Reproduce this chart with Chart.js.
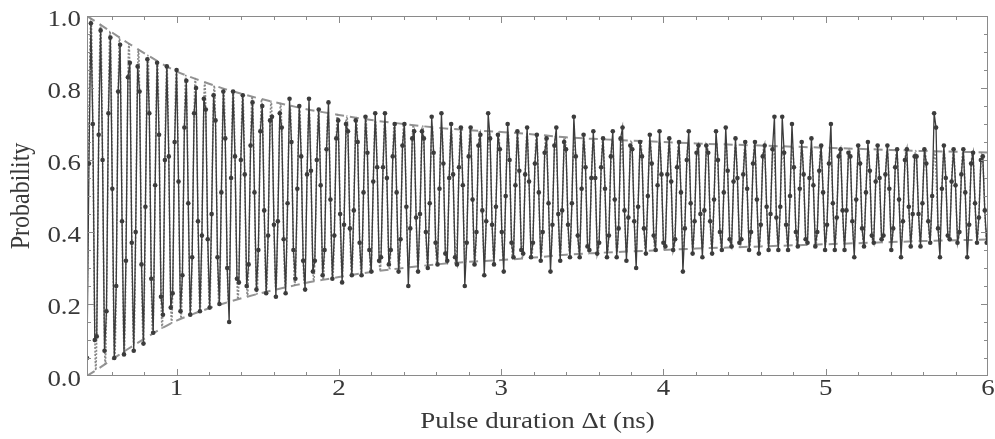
<!DOCTYPE html>
<html>
<head>
<meta charset="utf-8">
<title>Rabi oscillation</title>
<script src="https://cdn.jsdelivr.net/npm/chart.js@4.4.0/dist/chart.umd.min.js"></script>
<style>
  html, body { margin: 0; padding: 0; background: #fff; }
  canvas { display: block; }
</style>
</head>
<body>
<canvas id="myChart" width="995" height="439"></canvas>
<script>
//data

//measured points, one per pulse step
const pulseStart = 0.448; // ns
const pulseStep = 0.012;  // ns
const probability = [
  0.05, 0.59, 0.98, 0.70, 0.10,  0.11, 0.67, 0.96, 0.60, 0.07,
  0.18, 0.73, 0.94, 0.52, 0.05,  0.25, 0.79, 0.92, 0.43, 0.06,
  0.32, 0.83, 0.87, 0.37, 0.07,  0.40, 0.86, 0.79, 0.31, 0.09,
  0.47, 0.88, 0.73, 0.27, 0.12,  0.53, 0.87, 0.67, 0.22, 0.17,
  0.60, 0.86, 0.61, 0.19, 0.23,  0.65, 0.85, 0.54, 0.18, 0.28,
  0.69, 0.82, 0.48, 0.17, 0.33,  0.73, 0.80, 0.43, 0.18, 0.39,
  0.77, 0.74, 0.38, 0.19, 0.45,  0.78, 0.71, 0.33, 0.20, 0.51,
  0.79, 0.66, 0.30, 0.15, 0.55,  0.79, 0.61, 0.27, 0.26, 0.60,
  0.78, 0.56, 0.25, 0.31, 0.64,  0.76, 0.51, 0.24, 0.35, 0.68,
  0.75, 0.46, 0.23, 0.39, 0.71,  0.72, 0.42, 0.22, 0.43, 0.73,
  0.69, 0.38, 0.23, 0.48, 0.77,  0.65, 0.35, 0.27, 0.52, 0.75,
  0.61, 0.32, 0.24, 0.56, 0.77,  0.57, 0.29, 0.32, 0.60, 0.74,
  0.53, 0.28, 0.35, 0.63, 0.76,  0.49, 0.27, 0.39, 0.66, 0.71,
  0.45, 0.26, 0.42, 0.70, 0.68,  0.41, 0.28, 0.46, 0.71, 0.65,
  0.37, 0.28, 0.51, 0.72, 0.62,  0.35, 0.29, 0.54, 0.73, 0.58,
  0.32, 0.33, 0.58, 0.73, 0.55,  0.31, 0.35, 0.61, 0.70, 0.51,
  0.29, 0.38, 0.64, 0.70, 0.47,  0.25, 0.41, 0.66, 0.68, 0.44,
  0.29, 0.45, 0.68, 0.66, 0.40,  0.30, 0.48, 0.72, 0.62, 0.37,
  0.31, 0.52, 0.73, 0.59, 0.34,  0.32, 0.55, 0.70, 0.56, 0.33,
  0.31, 0.58, 0.69, 0.53, 0.25,  0.37, 0.61, 0.69, 0.49, 0.31,
  0.40, 0.64, 0.67, 0.46, 0.28,  0.43, 0.73, 0.66, 0.42, 0.31,
  0.47, 0.67, 0.63, 0.40, 0.29,  0.50, 0.70, 0.60, 0.37, 0.33,
  0.53, 0.68, 0.57, 0.35, 0.34,  0.56, 0.69, 0.54, 0.33, 0.37,
  0.59, 0.67, 0.51, 0.32, 0.40,  0.62, 0.66, 0.48, 0.29, 0.42,
  0.64, 0.69, 0.45, 0.32, 0.46,  0.65, 0.63, 0.42, 0.33, 0.48,
  0.72, 0.61, 0.39, 0.33, 0.52,  0.67, 0.58, 0.36, 0.35, 0.55,
  0.68, 0.55, 0.34, 0.37, 0.58,  0.66, 0.52, 0.33, 0.39, 0.61,
  0.68, 0.49, 0.33, 0.41, 0.66,  0.69, 0.46, 0.32, 0.44, 0.64,
  0.63, 0.43, 0.30, 0.47, 0.65,  0.61, 0.41, 0.34, 0.50, 0.67,
  0.59, 0.39, 0.35, 0.53, 0.68,  0.56, 0.37, 0.36, 0.56, 0.66,
  0.54, 0.35, 0.38, 0.58, 0.65,  0.51, 0.29, 0.41, 0.60, 0.68,
  0.48, 0.34, 0.43, 0.62, 0.64,  0.45, 0.33, 0.46, 0.64, 0.62,
  0.43, 0.34, 0.49, 0.68, 0.60,  0.40, 0.35, 0.51, 0.69, 0.57,
  0.38, 0.36, 0.54, 0.66, 0.55,  0.37, 0.38, 0.56, 0.65, 0.52,
  0.35, 0.40, 0.59, 0.65, 0.49,  0.34, 0.42, 0.61, 0.64, 0.47,
  0.35, 0.45, 0.63, 0.72, 0.44,  0.35, 0.47, 0.72, 0.62, 0.42,
  0.35, 0.50, 0.70, 0.58, 0.40,  0.36, 0.52, 0.65, 0.56, 0.38,
  0.37, 0.55, 0.66, 0.53, 0.36,  0.40, 0.57, 0.64, 0.51, 0.35,
  0.42, 0.59, 0.70, 0.48, 0.35,  0.44, 0.61, 0.63, 0.46, 0.35,
  0.46, 0.62, 0.61, 0.43, 0.33,  0.49, 0.64, 0.59, 0.41, 0.36,
  0.51, 0.65, 0.57, 0.39, 0.37,  0.54, 0.64, 0.55, 0.38, 0.39,
  0.56, 0.64, 0.52, 0.35, 0.41,  0.58, 0.63, 0.49, 0.33, 0.43,
  0.60, 0.63, 0.47, 0.36, 0.45,  0.61, 0.61, 0.45, 0.36, 0.48,
  0.63, 0.59, 0.43, 0.37, 0.50,  0.73, 0.69, 0.41, 0.33, 0.52,
  0.64, 0.55, 0.39, 0.38, 0.54,  0.63, 0.53, 0.37, 0.40, 0.56,
  0.63, 0.51, 0.33, 0.42, 0.59,  0.62, 0.48, 0.37, 0.44, 0.60,
  0.61, 0.46, 0.37, 0.46
];

//fit curve, given by its extrema (trough, peak, trough, ...)
const fitStart = 0.4437;      // ns, first trough
const fitHalfPeriod = 0.0292; // ns
const fitExtrema = [
  0.000, 0.993, 0.016, 0.976, 0.033, 0.958, 0.051, 0.941, 0.068, 0.923,
  0.085, 0.907, 0.101, 0.891, 0.117, 0.875, 0.133, 0.860, 0.147, 0.846,
  0.160, 0.835, 0.170, 0.826, 0.179, 0.816, 0.188, 0.807, 0.197, 0.798,
  0.206, 0.791, 0.213, 0.783, 0.220, 0.776, 0.227, 0.769, 0.234, 0.763,
  0.240, 0.757, 0.246, 0.751, 0.252, 0.745, 0.258, 0.740, 0.263, 0.735,
  0.267, 0.730, 0.272, 0.726, 0.276, 0.722, 0.280, 0.718, 0.285, 0.713,
  0.289, 0.710, 0.292, 0.707, 0.295, 0.703, 0.298, 0.700, 0.301, 0.697,
  0.304, 0.694, 0.307, 0.691, 0.310, 0.689, 0.312, 0.687, 0.314, 0.685,
  0.316, 0.683, 0.318, 0.681, 0.319, 0.680, 0.321, 0.678, 0.322, 0.677,
  0.324, 0.675, 0.326, 0.673, 0.329, 0.670, 0.331, 0.668, 0.333, 0.666,
  0.336, 0.663, 0.338, 0.662, 0.339, 0.660, 0.340, 0.659, 0.342, 0.657,
  0.343, 0.656, 0.344, 0.655, 0.345, 0.654, 0.347, 0.653, 0.348, 0.652,
  0.349, 0.650, 0.350, 0.649, 0.351, 0.648, 0.352, 0.647, 0.354, 0.646,
  0.355, 0.645, 0.356, 0.644, 0.356, 0.643, 0.357, 0.642, 0.358, 0.641,
  0.359, 0.641, 0.360, 0.640, 0.361, 0.639, 0.362, 0.638, 0.362, 0.637,
  0.363, 0.636, 0.364, 0.635, 0.365, 0.635, 0.366, 0.634, 0.367, 0.633,
  0.368, 0.632, 0.369, 0.631, 0.369, 0.630, 0.370, 0.629, 0.371, 0.628,
  0.372, 0.627, 0.373, 0.627, 0.374, 0.626, 0.375, 0.625, 0.375, 0.624,
  0.376, 0.624, 0.377, 0.623, 0.377, 0.623, 0.378, 0.622, 0.378, 0.621,
  0.379, 0.621
];

//decay envelope (dashed lines)
const envTime  = [0.448, 0.5, 0.6, 0.7, 0.8, 0.9, 1.0, 1.1, 1.2, 1.3, 1.4, 1.5, 1.6, 1.7, 1.8, 1.9, 2.0, 2.2, 2.4, 2.6, 2.8, 3.0, 3.2, 3.4, 3.6, 3.8, 4.0, 4.2, 4.4, 4.6, 4.8, 5.0, 5.2, 5.4, 5.6, 5.8, 6.0];
const envUpper = [1.0, 0.985, 0.955, 0.925, 0.897, 0.870, 0.846, 0.828, 0.812, 0.797, 0.784, 0.772, 0.761, 0.751, 0.741, 0.733, 0.725, 0.711, 0.700, 0.690, 0.683, 0.678, 0.671, 0.663, 0.658, 0.654, 0.650, 0.646, 0.643, 0.640, 0.637, 0.634, 0.631, 0.628, 0.625, 0.623, 0.621];
const envLower = [0.0, 0.015, 0.045, 0.075, 0.103, 0.130, 0.154, 0.172, 0.188, 0.203, 0.216, 0.228, 0.239, 0.249, 0.259, 0.267, 0.275, 0.289, 0.300, 0.310, 0.317, 0.322, 0.329, 0.337, 0.342, 0.346, 0.350, 0.354, 0.357, 0.360, 0.363, 0.366, 0.369, 0.372, 0.375, 0.377, 0.379];

//tick labels
const xTicks = [1, 2, 3, 4, 5, 6];
const yTicks = [0, 0.2, 0.4, 0.6, 0.8, 1.0];


const measured = probability.map((p, i) => ({ x: pulseStart + i * pulseStep, y: p }));
const fitLine = fitExtrema.map((p, i) => ({ x: fitStart + i * fitHalfPeriod, y: p }));
const upperLine = envTime.map((t, i) => ({ x: t, y: envUpper[i] }));
const lowerLine = envTime.map((t, i) => ({ x: t, y: envLower[i] }));

//frame with small ticks pointing inwards, like the original plot
const frameTicks = {
  id: "frameTicks",
  afterDraw(chart) {
    const ctx = chart.ctx;
    const a = chart.chartArea;
    const xs = chart.scales.x;
    const ys = chart.scales.y;
    ctx.save();
    ctx.strokeStyle = "#8a8a8a";
    ctx.lineWidth = 1;
    ctx.strokeRect(a.left + 0.5, a.top + 0.5, a.right - a.left - 1, a.bottom - a.top - 1);
    ctx.beginPath();
    // x: minor every 0.2 ns
    for (let n = 3; n <= 29; n++) {
      const len = n % 5 === 0 ? 7 : 4;
      const px = Math.round(xs.getPixelForValue(n * 0.2)) + 0.5;
      ctx.moveTo(px, a.bottom);
      ctx.lineTo(px, a.bottom - len);
      ctx.moveTo(px, a.top);
      ctx.lineTo(px, a.top + len);
    }
    // y: minor every 0.05
    for (let n = 1; n <= 19; n++) {
      const len = n % 4 === 0 ? 7 : 4;
      const py = Math.round(ys.getPixelForValue(n * 0.05)) + 0.5;
      ctx.moveTo(a.left, py);
      ctx.lineTo(a.left + len, py);
      ctx.moveTo(a.right, py);
      ctx.lineTo(a.right - len, py);
    }
    ctx.stroke();
    ctx.restore();
  }
};

//the original lettering is a bit wide, so the labels get stretched sideways
const textStretch = 1.12;
const axisText = {
  id: "axisText",
  afterDraw(chart) {
    const ctx = chart.ctx;
    const a = chart.chartArea;
    const xs = chart.scales.x;
    const ys = chart.scales.y;
    const put = (text, x, y, align, upright) => {
      ctx.save();
      ctx.translate(x, y);
      ctx.scale(textStretch, 1);
      if (upright) ctx.rotate(-Math.PI / 2);
      ctx.textAlign = align;
      ctx.textBaseline = "middle";
      ctx.fillText(text, 0, 0);
      ctx.restore();
    };
    ctx.save();
    ctx.fillStyle = "#383838";
    ctx.font = "24px 'Liberation Serif', 'DejaVu Serif', serif";
    xTicks.forEach((v) => put(String(v), xs.getPixelForValue(v), a.bottom + 13, "center"));
    yTicks.forEach((v) => put(v.toFixed(1), a.left - 6, ys.getPixelForValue(v) + 4, "right"));
    put("Pulse duration \u0394t (ns)", (a.left + a.right) / 2, 422, "center");
    put("Probability", 22, (a.top + a.bottom) / 2, "center", true);
    ctx.restore();
  }
};

const ctx = document.getElementById("myChart").getContext("2d");
new Chart(ctx, {
  type: "line",
  data: {
    datasets: [
      {
        label: "data",
        data: measured,
        order: 0,
        borderColor: "#3c3c3c",
        borderWidth: 1.3,
        tension: 0,
        pointRadius: 2.3,
        pointBorderWidth: 0,
        pointBackgroundColor: "#3c3c3c",
      },
      {
        label: "fit",
        data: fitLine,
        order: 1,
        borderColor: "#888888",
        borderWidth: 1.6,
        borderDash: [2, 1.5],
        cubicInterpolationMode: "monotone",
        pointRadius: 0,
      },
      {
        label: "upper",
        data: upperLine,
        order: 2,
        borderColor: "#939393",
        borderWidth: 2,
        borderDash: [9, 6],
        cubicInterpolationMode: "monotone",
        pointRadius: 0,
      },
      {
        label: "lower",
        data: lowerLine,
        order: 2,
        borderColor: "#939393",
        borderWidth: 2,
        borderDash: [9, 6],
        cubicInterpolationMode: "monotone",
        pointRadius: 0,
      },
    ],
  },
  options: {
    responsive: false,
    animation: false,
    events: [],
    layout: { padding: { top: 16, right: 7, left: 0, bottom: 0 } },
    plugins: {
      legend: { display: false },
      tooltip: { enabled: false },
    },
    scales: {
      x: {
        type: "linear",
        min: 0.448,
        max: 6,
        afterFit: (scale) => { scale.height = 63; },
        grid: { display: false, drawTicks: false },
        border: { display: false },
        ticks: { display: false },
      },
      y: {
        min: 0,
        max: 1,
        afterFit: (scale) => { scale.width = 87; },
        grid: { display: false, drawTicks: false },
        border: { display: false },
        ticks: { display: false },
      },
    },
  },
  plugins: [frameTicks, axisText],
});
</script>
</body>
</html>
